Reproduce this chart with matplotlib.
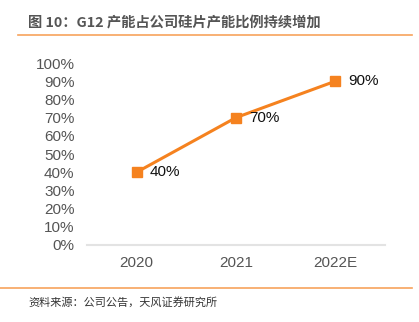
import matplotlib
matplotlib.use("Agg")
import matplotlib.pyplot as plt

plt.rcParams['font.family'] = ['Liberation Sans', 'Noto Sans CJK SC', 'DejaVu Sans']

years = ['2020', '2021', '2022E']
share = [40, 70, 90]
yticks = [0, 10, 20, 30, 40, 50, 60, 70, 80, 90, 100]

orange = '#F5821F'

fig = plt.figure(figsize=(4.19, 3.22), dpi=100)
W, H = 419, 322
ax = fig.add_axes([87 / W, 1 - 245 / H, 298 / W, (245 - 63) / H])

x = list(range(len(years)))
ax.plot(x, share, color=orange, lw=2.2, marker='s', markersize=7, zorder=3)
for xi, v in zip(x, share):
    ax.annotate(f'{v}%', (xi, v), xytext=(9.5, 0), textcoords='offset points',
                va='center', ha='left', fontsize=11, color='#111111')

ax.set_xlim(-0.5, len(years) - 0.5)
ax.set_ylim(0, 100)
ax.set_xticks(x)
ax.set_xticklabels(years)
ax.set_yticks(yticks)
ax.set_yticklabels([f'{t}%' for t in yticks])
ax.tick_params(length=0, labelsize=11, colors='#555555')
ax.tick_params(axis='y', pad=9)
ax.tick_params(axis='x', pad=8)
for s in ['top', 'right', 'left']:
    ax.spines[s].set_visible(False)
ax.spines['bottom'].set_color('#e3e3e3')
ax.spines['bottom'].set_linewidth(1.5)

fig.text(28 / W, 1 - 22 / H, '图 10：G12 产能占公司硅片产能比例持续增加',
         fontsize=10.3, fontweight='bold', color='#555555', va='center',
         family=['Noto Sans CJK SC', 'DejaVu Sans'])
fig.add_artist(plt.Line2D([18 / W, 412 / W], [1 - 35 / H, 1 - 35 / H],
                          color='#F7A35C', lw=1.2))
fig.add_artist(plt.Line2D([0, 412 / W], [1 - 288 / H, 1 - 288 / H],
                          color='#F7A35C', lw=1.2))
fig.text(28 / W, 1 - 302 / H, '资料来源：公司公告，天风证券研究所',
         fontsize=8, color='#333333', va='center',
         family=['Noto Sans CJK SC', 'DejaVu Sans'])

fig.savefig('out.png', dpi=100)
